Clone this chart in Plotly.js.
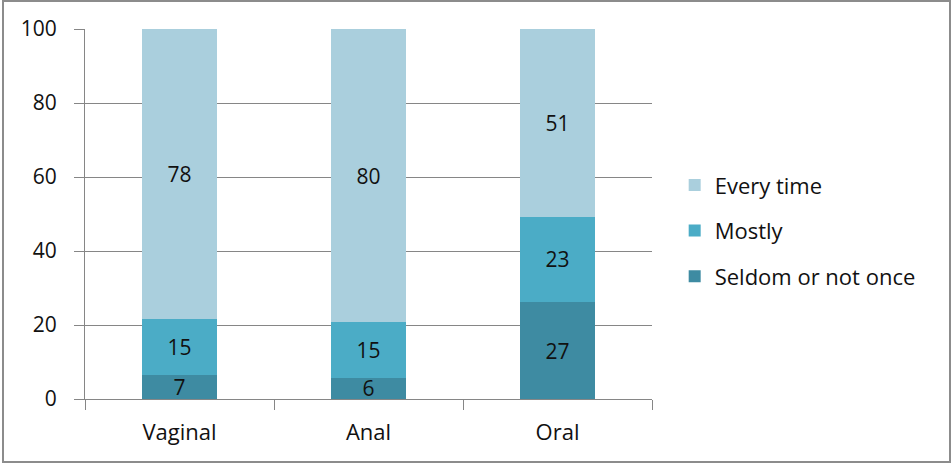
<!DOCTYPE html>
<html>
<head>
<meta charset="utf-8">
<script src="https://cdn.plot.ly/plotly-3.0.1.min.js"></script>
<style>
html,body{margin:0;padding:0;background:#fff;}
#wrap{position:absolute;left:2px;top:0px;width:945px;height:459px;border:2px solid #8c8c8c;}
#chart{width:945px;height:459px;}
</style>
</head>
<body>
<div id="wrap"><div id="chart"></div></div>
<script>
const categories = ["Vaginal", "Anal", "Oral"];
const seriesNames = ["Seldom or not once", "Mostly", "Every time"];
// measured segment heights (percent)
const seldomValues = [6.5, 5.7, 26.2];
const mostlyValues = [15.1, 15.0, 23.1];
const everyValues  = [78.4, 79.3, 50.7];
// labels printed on the segments
const seldomLabels = ["7", "6", "27"];
const mostlyLabels = ["15", "15", "23"];
const everyLabels  = ["78", "80", "51"];
const yTicks = [0, 20, 40, 60, 80, 100];

const colors = ["#3E8BA2", "#4BACC6", "#AACFDD"];
const legendRanks = [3, 2, 1];
const valueSets = [seldomValues, mostlyValues, everyValues];
const labelSets = [seldomLabels, mostlyLabels, everyLabels];
const FONT = "'Open Sans', 'Noto Sans', sans-serif";
const FS = 22;
const TXT = "#111";

const traces = seriesNames.map((name, i) => ({
  type: "bar",
  name: name,
  x: categories,
  y: valueSets[i],
  text: labelSets[i],
  texttemplate: "%{text}",
  textposition: "inside",
  insidetextanchor: "middle",
  textangle: 0,
  constraintext: "none",
  textfont: {family: FONT, size: 21, color: TXT},
  marker: {color: colors[i], line: {width: 0}},
  legendgroup: "g" + i,
  legendrank: legendRanks[i],
  hoverinfo: "skip"
}));

const layout = {
  width: 945, height: 459,
  barmode: "stack",
  bargap: 0.6,
  paper_bgcolor: "#fff",
  plot_bgcolor: "#fff",
  margin: {l: 81, r: 297, t: 27, b: 62},
  font: {family: FONT, size: FS, color: TXT},
  uniformtext: {mode: "show", minsize: 21},
  showlegend: true,
  legend: {
    x: 1.04, xanchor: "left", xref: "paper",
    y: 0.455, yanchor: "middle",
    traceorder: "grouped",
    tracegroupgap: 14,
    font: {family: FONT, size: FS, color: TXT},
    bgcolor: "rgba(0,0,0,0)",
    itemclick: false
  },
  xaxis: {
    type: "category",
    tickson: "boundaries",
    ticks: "outside",
    ticklen: 10,
    tickcolor: "#868686",
    tickwidth: 1,
    showline: true,
    linecolor: "#868686",
    linewidth: 1,
    showgrid: false,
    ticklabelstandoff: 14,
    tickfont: {family: FONT, size: FS, color: TXT}
  },
  yaxis: {
    range: [0, 100],
    tickvals: yTicks,
    ticktext: yTicks.map(String),
    ticks: "outside",
    ticklen: 10,
    tickcolor: "#868686",
    showline: true,
    linecolor: "#868686",
    linewidth: 1,
    showgrid: true,
    gridcolor: "#868686",
    gridwidth: 1,
    zeroline: false,
    ticklabelstandoff: 13,
    tickfont: {family: FONT, size: 21, color: TXT}
  }
};

Plotly.newPlot("chart", traces, layout, {displayModeBar: false, staticPlot: true});
</script>
</body>
</html>
